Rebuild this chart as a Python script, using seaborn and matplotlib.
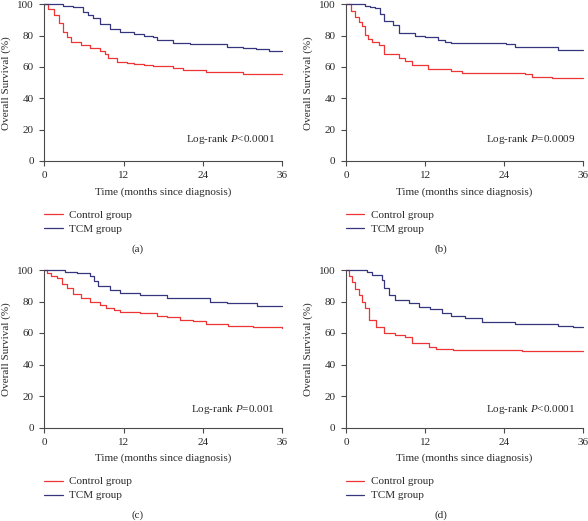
import matplotlib
matplotlib.use("Agg")
import matplotlib.pyplot as plt
import seaborn as sns
import pandas as pd

# ---------------- data ----------------
groups = ["Control group", "TCM group"]
panel_labels = ["(a)", "(b)", "(c)", "(d)"]
pvalue_texts = ["Log-rank $P$<0.0001", "Log-rank $P$=0.0009",
                "Log-rank $P$=0.001", "Log-rank $P$<0.0001"]
x_ticks = [0, 12, 24, 36]
y_ticks = [0, 20, 40, 60, 80, 100]

ctrl_a_t = [0, 0.6, 1.4, 2.2, 2.9, 3.5, 4.1, 5.5, 6.9, 8.4, 9.2, 9.7, 11.0, 12.5,
            13.5, 15.0, 16.5, 19.5, 21.0, 24.5, 27.6, 30.0, 36]
ctrl_a_s = [100, 97, 93, 88, 82.5, 79, 76, 74, 72, 70, 68, 65.5, 63.4, 62.5,
            62, 61, 60.6, 59.5, 58, 57, 56.6, 55.3, 55.3]
tcm_a_t = [0, 2.9, 4.4, 5.9, 6.6, 7.4, 8.4, 9.9, 11.4, 13.5, 15.0, 16.5, 17.0,
           19.5, 22.0, 27.6, 30.0, 32.0, 34.0, 36]
tcm_a_s = [100, 99, 98, 95.3, 93, 91, 87.5, 84, 82.5, 80.8, 80, 79, 77,
           75.5, 74.7, 73, 72, 71.3, 70.4, 70.4]

ctrl_b_t = [0, 0.7, 1.4, 1.9, 2.4, 2.9, 3.4, 3.9, 5.0, 5.7, 8.0, 9.0, 10.0, 12.5,
            14.5, 16.0, 17.6, 27.2, 28.2, 31.2, 36]
ctrl_b_s = [100, 96, 92, 89, 86, 80.5, 78, 76, 74, 68.5, 65.5, 63.5, 61, 59,
            58.5, 57.4, 56.3, 55.5, 53.8, 52.8, 52.8]
tcm_b_t = [0, 2.9, 3.6, 4.4, 5.2, 5.7, 7.2, 8.0, 10.5, 12.0, 14.0, 15.0, 16.0,
           24.2, 25.7, 27.7, 32.2, 36]
tcm_b_s = [100, 99, 98.5, 97.5, 94, 89.5, 87, 81.5, 80, 79, 77, 76, 75,
           74.5, 73, 72.5, 71, 70.8]

ctrl_c_t = [0, 0.35, 1.0, 1.9, 2.6, 3.4, 4.4, 5.6, 6.9, 8.4, 9.4, 10.5, 11.4,
            14.5, 17.0, 18.5, 20.5, 22.5, 24.5, 27.8, 31.6, 34.0, 36]
ctrl_c_s = [100, 98, 96.5, 94.7, 91, 88.3, 85, 82, 80, 77.8, 75.6, 74.5, 73.5,
            72.4, 71, 70, 68.2, 67.5, 66, 64.4, 64, 63.5, 63.3]
tcm_c_t = [0, 3.1, 4.9, 6.9, 7.5, 8.1, 9.9, 11.4, 14.5, 18.5, 21.5, 25.0, 27.6,
           32.1, 36]
tcm_c_s = [100, 99, 98, 96, 93, 90, 87.3, 85.2, 84, 82.4, 82, 80, 78.8,
           77.3, 77.3]

ctrl_d_t = [0, 0.4, 0.9, 1.4, 1.9, 2.4, 2.9, 3.5, 4.5, 5.7, 7.5, 9.0, 10.0,
            12.6, 13.6, 16.2, 26.7, 36]
ctrl_d_s = [100, 96, 92.6, 88, 84, 80, 75.6, 68.2, 64, 60, 58.7, 57.6, 53.4,
            51.3, 49.8, 49.2, 48.5, 48.5]
tcm_d_t = [0, 3.2, 3.9, 5.5, 5.7, 6.5, 7.5, 9.5, 11.0, 12.8, 14.5, 16.0, 18.0,
           20.6, 25.6, 32.2, 34.5, 36]
tcm_d_s = [100, 99, 96.8, 93.6, 88.3, 84, 81, 79, 76.8, 75, 72.5, 71, 69.4,
           67.3, 65.5, 64.5, 63.6, 63.6]

panels = [
    (ctrl_a_t, ctrl_a_s, tcm_a_t, tcm_a_s),
    (ctrl_b_t, ctrl_b_s, tcm_b_t, tcm_b_s),
    (ctrl_c_t, ctrl_c_s, tcm_c_t, tcm_c_s),
    (ctrl_d_t, ctrl_d_s, tcm_d_t, tcm_d_s),
]

# ---------------- style ----------------
sns.set_theme(style="ticks")
plt.rcParams["font.family"] = ["Liberation Serif", "DejaVu Serif"]
plt.rcParams["mathtext.fontset"] = "custom"
plt.rcParams["mathtext.rm"] = "Liberation Serif"
plt.rcParams["mathtext.it"] = "Liberation Serif:italic"
plt.rcParams["font.size"] = 8

RED = "#ee3535"
BLUE = "#36367f"
AXC = "#4a4a4a"
TXT = "#2a2a2a"
palette = {"Control group": RED, "TCM group": BLUE}

fig = plt.figure(figsize=(5.88, 5.21), dpi=100)

W, H = 588.0, 521.0
# axes pixel boxes: (left, right, top, bottom)
boxes = [(44.3, 282.5, 4.3, 161.0), (346.0, 583.3, 4.3, 161.0),
         (44.3, 282.5, 270.0, 427.5), (346.0, 583.3, 270.0, 427.5)]
label_x = [138, 441, 138, 441]
label_y = [249.3, 249.3, 515.5, 515.5]
pv_y = [0.138, 0.138, 0.117, 0.117]

for i, (ct, cs, tt, ts) in enumerate(panels):
    l, r, t, b = boxes[i]
    ax = fig.add_axes([l / W, 1 - b / H, (r - l) / W, (b - t) / H])
    df = pd.concat([
        pd.DataFrame({"time": ct, "surv": cs, "group": groups[0]}),
        pd.DataFrame({"time": tt, "surv": ts, "group": groups[1]}),
    ], ignore_index=True)
    sns.lineplot(data=df, x="time", y="surv", hue="group", hue_order=groups,
                 palette=palette, estimator=None, drawstyle="steps-post",
                 linewidth=0.9, legend=False, ax=ax, clip_on=False)
    ax.set_xlim(0, 36)
    ax.set_ylim(0, 100)
    ax.set_xticks(x_ticks)
    ax.set_yticks(y_ticks)
    sns.despine(ax=ax)
    for s in ("left", "bottom"):
        ax.spines[s].set_color(AXC)
        ax.spines[s].set_linewidth(0.8)
    ax.tick_params(axis="both", direction="out", length=3.5, width=0.8,
                   color=AXC, labelsize=8, labelcolor=TXT, pad=4)
    ax.set_xlabel("Time (months since diagnosis)", fontsize=8, color=TXT)
    ax.set_ylabel("Overall Survival (%)", fontsize=8, color=TXT)
    ax.xaxis.set_label_coords(0.5, -0.167)
    ax.yaxis.set_label_coords(-0.138, 0.5)
    ax.text(0.968, pv_y[i], pvalue_texts[i], transform=ax.transAxes,
            ha="right", va="center", fontsize=8, color=TXT)
    leg = ax.legend(handles=ax.lines[:2], labels=groups, loc="upper left",
                    bbox_to_anchor=(0, -0.312), frameon=False, borderpad=0,
                    borderaxespad=0, handlelength=1.66, handletextpad=0.6,
                    labelspacing=0.38, fontsize=8)
    for txt in leg.get_texts():
        txt.set_color(TXT)
    fig.text(label_x[i] / W, 1 - label_y[i] / H, panel_labels[i],
             ha="center", va="center", fontsize=8, color=TXT)

fig.savefig("out.png", dpi=100)
